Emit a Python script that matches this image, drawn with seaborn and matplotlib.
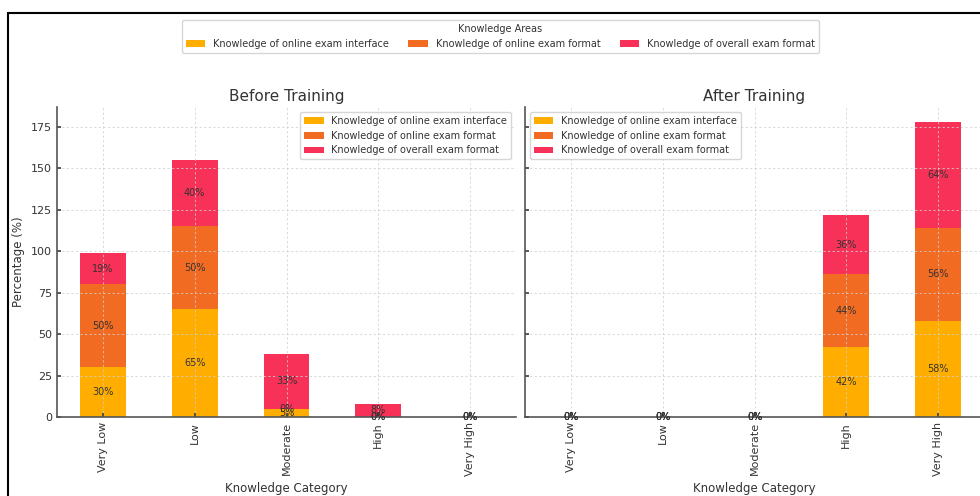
import numpy as np
import pandas as pd
import matplotlib
matplotlib.use("Agg")
import matplotlib.pyplot as plt
from matplotlib.lines import Line2D
import seaborn as sns

# Knowledge categories and areas
categories = ["Very Low", "Low", "Moderate", "High", "Very High"]
areas = [
    "Knowledge of online exam interface",
    "Knowledge of online exam format",
    "Knowledge of overall exam format",
]
colors = ["#FFAE00", "#F26B22", "#F73157"]

# Percentages before training
before_interface = [30, 65, 5, 0, 0]
before_format = [50, 50, 0, 0, 0]
before_overall = [19, 40, 33, 8, 0]

# Percentages after training
after_interface = [0, 0, 0, 42, 58]
after_format = [0, 0, 0, 44, 56]
after_overall = [0, 0, 0, 36, 64]

yticks = [0, 25, 50, 75, 100, 125, 150, 175]

sns.set_theme(style="ticks", rc={
    "axes.edgecolor": "#555555",
    "axes.linewidth": 1.2,
    "text.color": "#333333",
    "axes.labelcolor": "#333333",
    "xtick.color": "#444444",
    "ytick.color": "#444444",
    "xtick.labelcolor": "#333333",
    "ytick.labelcolor": "#333333",
    "xtick.direction": "in",
    "ytick.direction": "in",
    "xtick.major.size": 3,
    "ytick.major.size": 3,
    "legend.frameon": True,
    "legend.edgecolor": "#cccccc",
    "legend.fancybox": True,
    "legend.framealpha": 0.8,
})
plt.rcParams["font.family"] = ["DejaVu Sans"]

W, H = 980, 496
fig = plt.figure(figsize=(W / 100, H / 100), dpi=100)


def px_axes(left, top, right, bottom, **kw):
    return fig.add_axes([left / W, 1 - bottom / H, (right - left) / W, (bottom - top) / H], **kw)


ax1 = px_axes(57, 107, 516, 417)
ax2 = px_axes(525, 107, 984, 417, sharey=ax1)


def draw_stack(ax, series, title, legend_loc):
    bottom = np.zeros(len(categories))
    for vals, name, col in zip(series, areas, colors):
        df = pd.DataFrame({"category": categories, "value": vals})
        sns.barplot(data=df, x="category", y="value", order=categories,
                    color=col, saturation=1, width=0.5, errorbar=None,
                    bottom=bottom.copy(), label=name, linewidth=0, ax=ax)
        ax.bar_label(ax.containers[-1], labels=[f"{v}%" for v in vals],
                     label_type="center", fontsize=7, color="#333333")
        bottom += np.array(vals, dtype=float)

    ax.set_title(title, fontsize=11, color="#333333", pad=4)
    ax.set_xlabel("Knowledge Category", fontsize=8.5)
    ax.set_xlim(-0.5, len(categories) - 0.5)
    ax.grid(True, linestyle=(0, (3, 3)), color="#cfcfcf", linewidth=0.55)
    ax.set_axisbelow("line")
    ax.tick_params(axis="x", rotation=90, labelsize=8)
    ax.tick_params(axis="y", labelsize=8)
    for side in ("top", "right"):
        ax.spines[side].set_visible(False)
    ax.legend(loc=legend_loc, fontsize=7)
    return bottom


tot_before = draw_stack(ax1, [before_interface, before_format, before_overall],
                        "Before Training", "upper right")
tot_after = draw_stack(ax2, [after_interface, after_format, after_overall],
                       "After Training", "upper left")

ax1.set_ylabel("Percentage (%)", fontsize=8.5)
ax2.set_ylabel("")
ax1.set_yticks(yticks)
ax1.set_ylim(0, max(tot_before.max(), tot_after.max()) * 1.05)
ax2.tick_params(axis="y", labelleft=False)

handles, labels = ax1.get_legend_handles_labels()
fig.legend(handles, labels, title="Knowledge Areas", loc="upper center",
           bbox_to_anchor=(500.5 / W, 1 - 15 / H), ncol=3, fontsize=7,
           title_fontsize=7)

# Frame around the figure
fig.add_artist(Line2D([8 / W, 1], [1 - 13 / H, 1 - 13 / H], transform=fig.transFigure,
                      color="black", linewidth=1.5))
fig.add_artist(Line2D([8 / W, 8 / W], [1 - 13 / H, 0], transform=fig.transFigure,
                      color="black", linewidth=1.5))

fig.savefig("out.png", dpi=100)
